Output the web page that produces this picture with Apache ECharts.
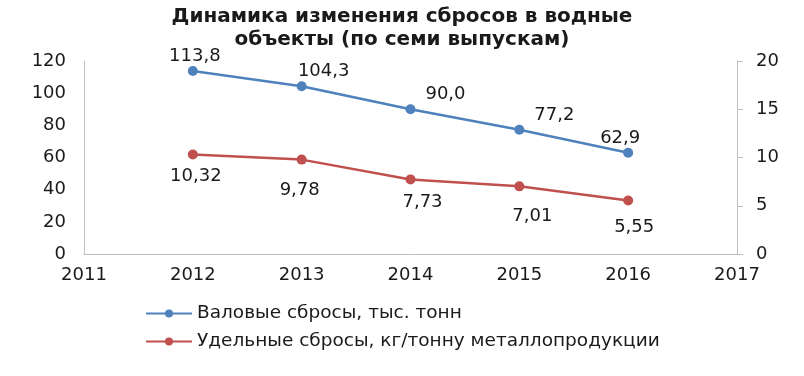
<!DOCTYPE html>
<html>
<head>
<meta charset="utf-8">
<script src="https://cdn.jsdelivr.net/npm/echarts@6/dist/echarts.min.js"></script>
<style>
html,body{margin:0;padding:0;background:#fff;}
#chart{width:804px;height:376px;}
</style>
</head>
<body>
<div id="chart"></div>
<script>
const titleText = "Динамика изменения сбросов в водные\nобъекты (по семи выпускам)";
const years = [2012, 2013, 2014, 2015, 2016];
const grossName = "Валовые сбросы, тыс. тонн";
const grossValues = [113.8, 104.3, 90.0, 77.2, 62.9];
const specificName = "Удельные сбросы, кг/тонну металлопродукции";
const specificValues = [10.32, 9.78, 7.73, 7.01, 5.55];
const xTicks = [2011, 2012, 2013, 2014, 2015, 2016, 2017];
const leftTicks = [0, 20, 40, 60, 80, 100, 120];
const rightTicks = [0, 5, 10, 15, 20];

// label nudges (styling only)
const grossLabelDx = [2, 22, 35, 35, -8];
const specificLabelDx = [3, -2, 12, 13, 6];
const specificLabelDy = [-6, 3, -5, 2, -1];

const FONT = "DejaVu Sans";
const fmt = (v, d) => v.toFixed(d).replace('.', ',');

const chart = echarts.init(document.getElementById('chart'), null, {renderer: 'canvas'});
chart.setOption({
  animation: false,
  backgroundColor: '#ffffff',
  textStyle: {fontFamily: FONT},
  title: {
    text: titleText,
    left: 'center',
    top: 0,
    textStyle: {fontFamily: FONT, fontSize: 20, fontWeight: 'bold', color: '#1a1a1a', lineHeight: 23}
  },
  legend: {
    orient: 'vertical',
    left: 145,
    top: 304,
    padding: 0,
    itemWidth: 46,
    itemHeight: 10,
    itemGap: 9,
    textStyle: {fontFamily: FONT, fontSize: 18.5, color: '#1a1a1a'},
    data: [grossName, specificName]
  },
  grid: {left: 84, right: 67, top: 61, bottom: 122, containLabel: false},
  xAxis: {
    type: 'value',
    min: xTicks[0],
    max: xTicks[xTicks.length - 1],
    interval: 1,
    axisLine: {show: true, lineStyle: {color: '#bfbfbf', width: 1}},
    axisTick: {show: false},
    splitLine: {show: false},
    axisLabel: {fontFamily: FONT, fontSize: 18, color: '#1a1a1a', margin: 12, formatter: v => String(v)}
  },
  yAxis: [
    {
      type: 'value', min: leftTicks[0], max: leftTicks[leftTicks.length - 1], interval: 20,
      axisLine: {show: true, lineStyle: {color: '#bfbfbf'}},
      axisTick: {show: false},
      splitLine: {show: false},
      axisLabel: {fontFamily: FONT, fontSize: 18, color: '#1a1a1a', margin: 18}
    },
    {
      type: 'value', min: rightTicks[0], max: rightTicks[rightTicks.length - 1], interval: 5,
      position: 'right',
      axisLine: {show: true, lineStyle: {color: '#bfbfbf'}},
      axisTick: {show: true, length: 6, lineStyle: {color: '#bfbfbf'}},
      splitLine: {show: false},
      axisLabel: {fontFamily: FONT, fontSize: 18, color: '#1a1a1a', margin: 19}
    }
  ],
  series: [
    {
      name: grossName,
      type: 'line',
      yAxisIndex: 0,
      data: years.map((y, i) => ({
        value: [y, grossValues[i]],
        label: {offset: [grossLabelDx[i], 0]}
      })),
      symbol: 'circle',
      symbolSize: 10,
      lineStyle: {color: '#4f81bd', width: 2.5},
      itemStyle: {color: '#4f81bd'},
      label: {
        show: true, position: 'top', distance: 1,
        fontFamily: FONT, fontSize: 18, color: '#1a1a1a',
        formatter: p => fmt(p.value[1], 1)
      }
    },
    {
      name: specificName,
      type: 'line',
      yAxisIndex: 1,
      data: years.map((y, i) => ({
        value: [y, specificValues[i]],
        label: {offset: [specificLabelDx[i], specificLabelDy[i]]}
      })),
      symbol: 'circle',
      symbolSize: 10,
      lineStyle: {color: '#c0504d', width: 2.5},
      itemStyle: {color: '#c0504d'},
      label: {
        show: true, position: 'bottom', distance: 14,
        fontFamily: FONT, fontSize: 18, color: '#1a1a1a',
        formatter: p => fmt(p.value[1], 2)
      }
    }
  ]
});
</script>
</body>
</html>
